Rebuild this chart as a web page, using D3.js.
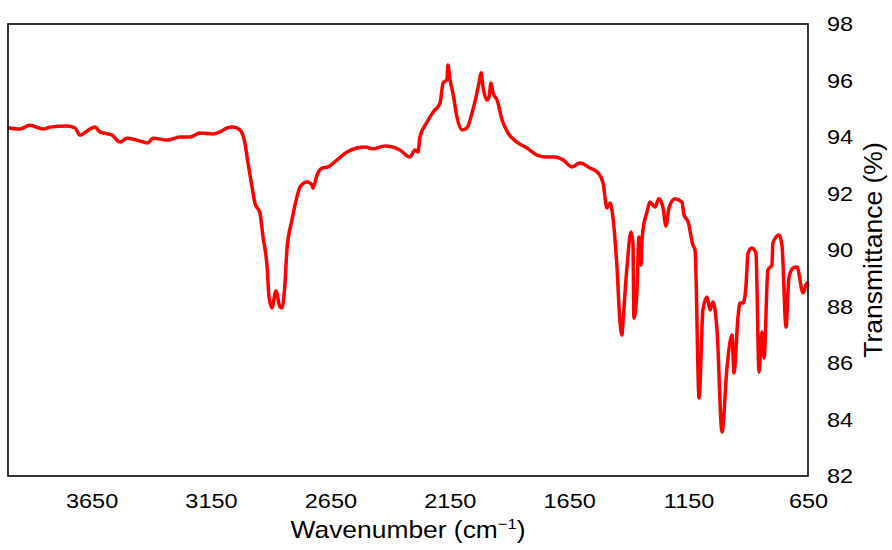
<!DOCTYPE html>
<html>
<head>
<meta charset="utf-8">
<script src="https://cdn.jsdelivr.net/npm/d3@7"></script>
<style>
	body { margin: 0; background: #fff; }
	text { font-family: "Liberation Sans", Arial, Helvetica, sans-serif; fill: #000; }
</style>
</head>
<body>
<svg></svg>
<script>

// FTIR spectrum (wavenumber in cm-1, transmittance in %)
var wavenumber = [4000, 3950, 3908, 3853, 3824, 3753, 3719, 3699, 3657, 3636, 3615, 3565, 3531, 3502, 3460, 3414, 3393, 3334, 3280, 3238,
	3196, 3142, 3112, 3083, 3058, 3029, 3008, 2995,
	2978, 2966, 2945, 2932, 2915, 2907, 2895, 2878, 2861, 2853, 2840, 2832, 2811, 2790, 2777, 2748, 2727, 2723, 2706, 2685,
	2660, 2622, 2580, 2539, 2505, 2472, 2421, 2359, 2317, 2296, 2283, 2275, 2245, 2220, 2191, 2178, 2162, 2158, 2149, 2137,
	2120, 2099, 2078, 2057, 2040, 2028, 2019, 2011, 1994, 1986, 1977, 1969, 1952, 1931, 1906, 1869, 1827, 1785, 1743, 1709,
	1676, 1638, 1605, 1563, 1529, 1508, 1492, 1479, 1467, 1450, 1437, 1429, 1425, 1408, 1391, 1383, 1379, 1366, 1358, 1349,
	1345, 1341, 1324, 1312, 1291, 1274, 1257, 1245, 1232, 1207, 1178, 1169, 1152, 1132, 1123, 1106, 1090, 1073, 1060, 1048,
	1031, 1010, 989, 968, 960, 943, 935, 922, 910, 901, 885, 868, 855, 843, 834, 818, 801, 797, 771, 759,
	742, 730, 713, 696, 671, 654, 650];

var transmittance = [94.33, 94.28, 94.42, 94.28, 94.35, 94.39, 94.32, 94.07, 94.28, 94.35, 94.18, 94.07, 93.82, 93.96, 93.89, 93.79, 93.96, 93.89, 94.00, 94.00,
	94.14, 94.11, 94.18, 94.32, 94.35, 94.25, 93.79, 93.08,
	92.23, 91.66, 91.31, 90.46, 89.40, 88.34, 87.95, 88.55, 87.98, 87.95, 88.83, 90.00, 91.06, 91.88, 92.23, 92.41, 92.30, 92.19, 92.65, 92.90,
	92.94, 93.19, 93.47, 93.61, 93.65, 93.58, 93.68, 93.54, 93.29, 93.54, 93.47, 94.00, 94.53, 94.88, 95.20, 95.91, 96.02, 96.55, 96.02, 95.56,
	94.71, 94.25, 94.32, 94.85, 95.42, 95.91, 96.27, 95.77, 95.31, 95.42, 95.91, 95.56, 95.31, 94.60, 94.14, 93.82, 93.61, 93.36, 93.29, 93.29,
	93.19, 92.94, 93.08, 92.90, 92.73, 92.37, 91.49, 91.66, 91.17, 89.40, 87.42, 86.99, 87.42, 89.40, 90.64, 90.25, 87.59, 88.58, 90.46, 89.47,
	90.35, 90.71, 91.35, 91.70, 91.52, 91.81, 91.49, 90.85, 91.49, 91.81, 91.70, 91.24, 90.99, 90.18, 90.00, 84.76, 87.88, 88.34, 87.88, 88.16,
	87.17, 83.56, 85.86, 86.99, 85.65, 87.63, 88.12, 88.12, 88.69, 89.89, 90.07, 89.89, 85.68, 87.10, 86.18, 89.29, 89.47, 90.25, 90.53, 90.18,
	87.27, 89.01, 89.36, 89.40, 88.48, 88.83, 88.70];

var xTicks = [3650, 3150, 2650, 2150, 1650, 1150, 650];
var yTicks = [82, 84, 86, 88, 90, 92, 94, 96, 98];


window.onload = function(){

	var W = 892, H = 550;
	var left = 8, right = 808, top = 24, bottom = 476;
	var stretch = 1.12;   // the original lettering is a bit wide

	var svg = d3.select('svg')
		.attr('width', W)
		.attr('height', H);

	// wavenumber runs high to low
	var x = d3.scaleLinear().domain([4000, 650]).range([left, right]);
	var y = d3.scaleLinear().domain([82, 98]).range([bottom, top]);

	var data = wavenumber.map(function(w, i){ return [w, transmittance[i]] });

	var line = d3.line()
		.x(function(d){ return x(d[0]) })
		.y(function(d){ return y(d[1]) })
		.curve(d3.curveMonotoneX);

	svg.append('path')
		.datum(data)
		.attr('d', line)
		.attr('fill', 'none')
		.attr('stroke', '#ff0000')
		.attr('stroke-width', 3.5)
		.attr('stroke-linejoin', 'round');

	// frame
	svg.append('rect')
		.attr('x', left)
		.attr('y', top)
		.attr('width', right - left)
		.attr('height', bottom - top)
		.attr('fill', 'none')
		.attr('stroke', '#000')
		.attr('stroke-width', 1.6);

	// bottom axis, labels only
	var xAxis = svg.append('g')
		.attr('transform', 'translate(0,' + bottom + ')')
		.call(d3.axisBottom(x).tickValues(xTicks).tickFormat(d3.format('d')).tickSize(0).tickPadding(32));
	xAxis.select('.domain').remove();
	xAxis.selectAll('text')
		.attr('dy', null)
		.attr('transform', 'scale(' + stretch + ',1)')
		.style('font-size', '21px')
		.style('font-family', '"Liberation Sans", Arial, sans-serif');

	// right axis, labels only
	var yAxis = svg.append('g')
		.attr('transform', 'translate(' + right + ',0)')
		.call(d3.axisRight(y).tickValues(yTicks).tickFormat(d3.format('d')).tickSize(0).tickPadding(0));
	yAxis.select('.domain').remove();
	yAxis.selectAll('text')
		.attr('x', 19 / stretch)
		.attr('transform', 'scale(' + stretch + ',1)')
		.style('font-size', '21px')
		.style('font-family', '"Liberation Sans", Arial, sans-serif');

	// axis titles
	var xt = svg.append('text')
		.attr('transform', 'translate(' + (left + right) / 2 + ',538) scale(1.1,1)')
		.attr('text-anchor', 'middle')
		.style('font-size', '24px');
	xt.append('tspan').text('Wavenumber (cm');
	xt.append('tspan').text('\u22121').attr('dy', -9).style('font-size', '15px');
	xt.append('tspan').text(')').attr('dy', 9);

	svg.append('text')
		.attr('transform', 'translate(882,' + (top + bottom) / 2 + ') rotate(-90)')
		.attr('text-anchor', 'middle')
		.style('font-size', '26.5px')
		.text('Transmittance (%)');
}

</script>
</body>
</html>
